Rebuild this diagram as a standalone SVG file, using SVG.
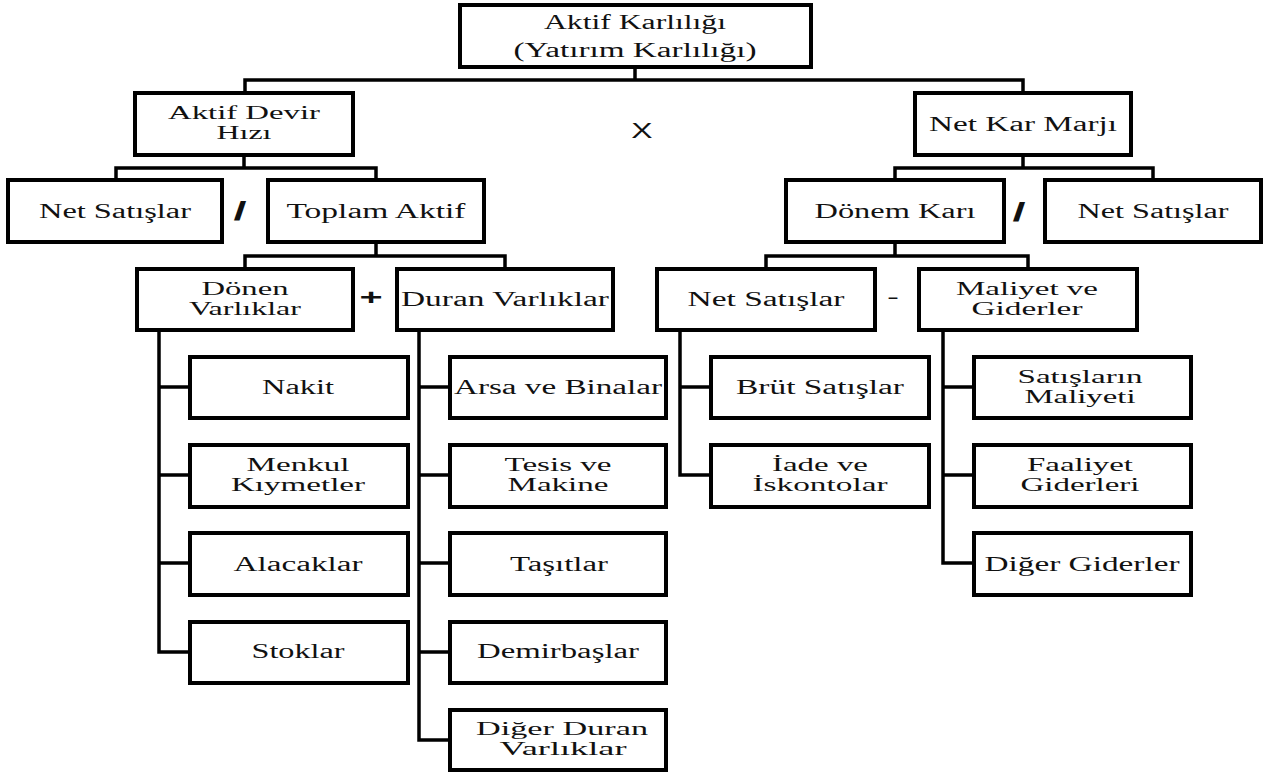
<svg xmlns="http://www.w3.org/2000/svg" width="1271" height="773" viewBox="0 0 1271 773">
<style>
.b{fill:#fff;stroke:#000;stroke-width:4}
.t{font-family:"Liberation Serif","Times New Roman",serif;font-size:20px;text-anchor:middle;fill:#111}
.t2{font-size:18px}
.c{stroke:#000;stroke-width:3.5;fill:none;stroke-linecap:square}
.op{font-family:"Liberation Sans",Arial,sans-serif;text-anchor:middle;fill:#111}
</style>
<rect width="1271" height="773" fill="#fff"/>
<g id="connectors" class="c">
<path d="M635,67V80M245,80H1023M245,80V93M1023,80V93"/>
<path d="M244,155V168M116,168H376M116,168V180M376,168V180"/>
<path d="M1023,155V168M895,168H1153M895,168V180M1153,168V180"/>
<path d="M376,242V256M245,256H505M245,256V269M505,256V269"/>
<path d="M895,242V256M766,256H1028M766,256V269M1028,256V269"/>
<path d="M159,330V652M159,387H190M159,475H190M159,563H190M159,652H190"/>
<path d="M419,330V740M419,387H450M419,475H450M419,563H450M419,652H450M419,740H450"/>
<path d="M680,330V475M680,387H711M680,475H711"/>
<path d="M943,330V563M943,387H974M943,475H974M943,563H974"/>
</g>
<g id="aktif-karliligi"><rect class="b" x="460" y="5" width="351" height="62"/>
<text class="t" x="635" y="29" textLength="182" lengthAdjust="spacingAndGlyphs">Aktif Karlılığı</text>
<text class="t" x="635" y="57" textLength="243" lengthAdjust="spacingAndGlyphs">(Yatırım Karlılığı)</text></g>
<g id="aktif-devir"><rect class="b" x="135" y="93" width="218" height="62"/>
<text class="t t2" x="244" y="119" textLength="152" lengthAdjust="spacingAndGlyphs">Aktif Devir</text>
<text class="t t2" x="244" y="139" textLength="55" lengthAdjust="spacingAndGlyphs">Hızı</text></g>
<g id="net-kar-marji"><rect class="b" x="915" y="93" width="216" height="62"/>
<text class="t" x="1023" y="131" textLength="188" lengthAdjust="spacingAndGlyphs">Net Kar Marjı</text></g>
<g id="net-satislar-1"><rect class="b" x="8" y="180" width="214" height="62"/>
<text class="t" x="115" y="218" textLength="152" lengthAdjust="spacingAndGlyphs">Net Satışlar</text></g>
<g id="toplam-aktif"><rect class="b" x="268" y="180" width="216" height="62"/>
<text class="t" x="376" y="218" textLength="179" lengthAdjust="spacingAndGlyphs">Toplam Aktif</text></g>
<g id="donem-kari"><rect class="b" x="786" y="180" width="218" height="62"/>
<text class="t" x="895" y="218" textLength="161" lengthAdjust="spacingAndGlyphs">Dönem Karı</text></g>
<g id="net-satislar-2"><rect class="b" x="1045" y="180" width="216" height="62"/>
<text class="t" x="1153" y="218" textLength="151" lengthAdjust="spacingAndGlyphs">Net Satışlar</text></g>
<g id="donen-varliklar"><rect class="b" x="137" y="269" width="216" height="61"/>
<text class="t t2" x="245" y="295" textLength="87" lengthAdjust="spacingAndGlyphs">Dönen</text>
<text class="t t2" x="245" y="315" textLength="112" lengthAdjust="spacingAndGlyphs">Varlıklar</text></g>
<g id="duran-varliklar"><rect class="b" x="397" y="269" width="216" height="61"/>
<text class="t" x="505" y="306" textLength="208" lengthAdjust="spacingAndGlyphs">Duran Varlıklar</text></g>
<g id="net-satislar-3"><rect class="b" x="657" y="269" width="218" height="61"/>
<text class="t" x="766" y="306" textLength="157" lengthAdjust="spacingAndGlyphs">Net Satışlar</text></g>
<g id="maliyet-giderler"><rect class="b" x="919" y="269" width="218" height="61"/>
<text class="t t2" x="1027" y="295" textLength="142" lengthAdjust="spacingAndGlyphs">Maliyet ve</text>
<text class="t t2" x="1027" y="315" textLength="111" lengthAdjust="spacingAndGlyphs">Giderler</text></g>
<g id="nakit"><rect class="b" x="190" y="357" width="218" height="61"/>
<text class="t" x="298" y="394" textLength="72" lengthAdjust="spacingAndGlyphs">Nakit</text></g>
<g id="menkul"><rect class="b" x="190" y="445" width="218" height="62"/>
<text class="t t2" x="298" y="471" textLength="103" lengthAdjust="spacingAndGlyphs">Menkul</text>
<text class="t t2" x="298" y="491" textLength="134" lengthAdjust="spacingAndGlyphs">Kıymetler</text></g>
<g id="alacaklar"><rect class="b" x="190" y="533" width="218" height="62"/>
<text class="t" x="298" y="571" textLength="129" lengthAdjust="spacingAndGlyphs">Alacaklar</text></g>
<g id="stoklar"><rect class="b" x="190" y="622" width="218" height="61"/>
<text class="t" x="298" y="658" textLength="93" lengthAdjust="spacingAndGlyphs">Stoklar</text></g>
<g id="arsa"><rect class="b" x="450" y="357" width="216" height="61"/>
<text class="t" x="558" y="394" textLength="208" lengthAdjust="spacingAndGlyphs">Arsa ve Binalar</text></g>
<g id="tesis"><rect class="b" x="450" y="445" width="216" height="62"/>
<text class="t t2" x="558" y="471" textLength="107" lengthAdjust="spacingAndGlyphs">Tesis ve</text>
<text class="t t2" x="558" y="491" textLength="101" lengthAdjust="spacingAndGlyphs">Makine</text></g>
<g id="tasitlar"><rect class="b" x="450" y="533" width="216" height="62"/>
<text class="t" x="559" y="571" textLength="98" lengthAdjust="spacingAndGlyphs">Taşıtlar</text></g>
<g id="demirbaslar"><rect class="b" x="450" y="622" width="216" height="61"/>
<text class="t" x="558" y="658" textLength="162" lengthAdjust="spacingAndGlyphs">Demirbaşlar</text></g>
<g id="diger-duran"><rect class="b" x="450" y="710" width="216" height="60"/>
<text class="t t2" x="562" y="735" textLength="172" lengthAdjust="spacingAndGlyphs">Diğer Duran</text>
<text class="t t2" x="563" y="755" textLength="127" lengthAdjust="spacingAndGlyphs">Varlıklar</text></g>
<g id="brut-satislar"><rect class="b" x="711" y="357" width="218" height="61"/>
<text class="t" x="820" y="394" textLength="168" lengthAdjust="spacingAndGlyphs">Brüt Satışlar</text></g>
<g id="iade"><rect class="b" x="711" y="445" width="218" height="62"/>
<text class="t t2" x="820" y="471" textLength="96" lengthAdjust="spacingAndGlyphs">İade ve</text>
<text class="t t2" x="820" y="491" textLength="135" lengthAdjust="spacingAndGlyphs">İskontolar</text></g>
<g id="satislarin-maliyeti"><rect class="b" x="974" y="357" width="217" height="61"/>
<text class="t t2" x="1080" y="383" textLength="125" lengthAdjust="spacingAndGlyphs">Satışların</text>
<text class="t t2" x="1080" y="403" textLength="111" lengthAdjust="spacingAndGlyphs">Maliyeti</text></g>
<g id="faaliyet-giderleri"><rect class="b" x="974" y="445" width="217" height="62"/>
<text class="t t2" x="1080" y="471" textLength="106" lengthAdjust="spacingAndGlyphs">Faaliyet</text>
<text class="t t2" x="1080" y="491" textLength="119" lengthAdjust="spacingAndGlyphs">Giderleri</text></g>
<g id="diger-giderler"><rect class="b" x="974" y="533" width="217" height="62"/>
<text class="t" x="1082" y="571" textLength="195" lengthAdjust="spacingAndGlyphs">Diğer Giderler</text></g>
<g id="operators">
<text class="op" font-size="22" transform="matrix(1.45,0,0,1,642,138)">X</text>
<text class="op" font-size="26" font-weight="bold" transform="matrix(1.8,0,0,1,240,220)">/</text>
<text class="op" font-size="26" font-weight="bold" transform="matrix(1.8,0,0,1,1019,221)">/</text>
<text class="op" font-size="22" font-weight="bold" transform="matrix(1.8,0,0,1,371,305)">+</text>
<text class="op" font-size="20" transform="matrix(1.8,0,0,1,893,304)">-</text>
</g>
</svg>
